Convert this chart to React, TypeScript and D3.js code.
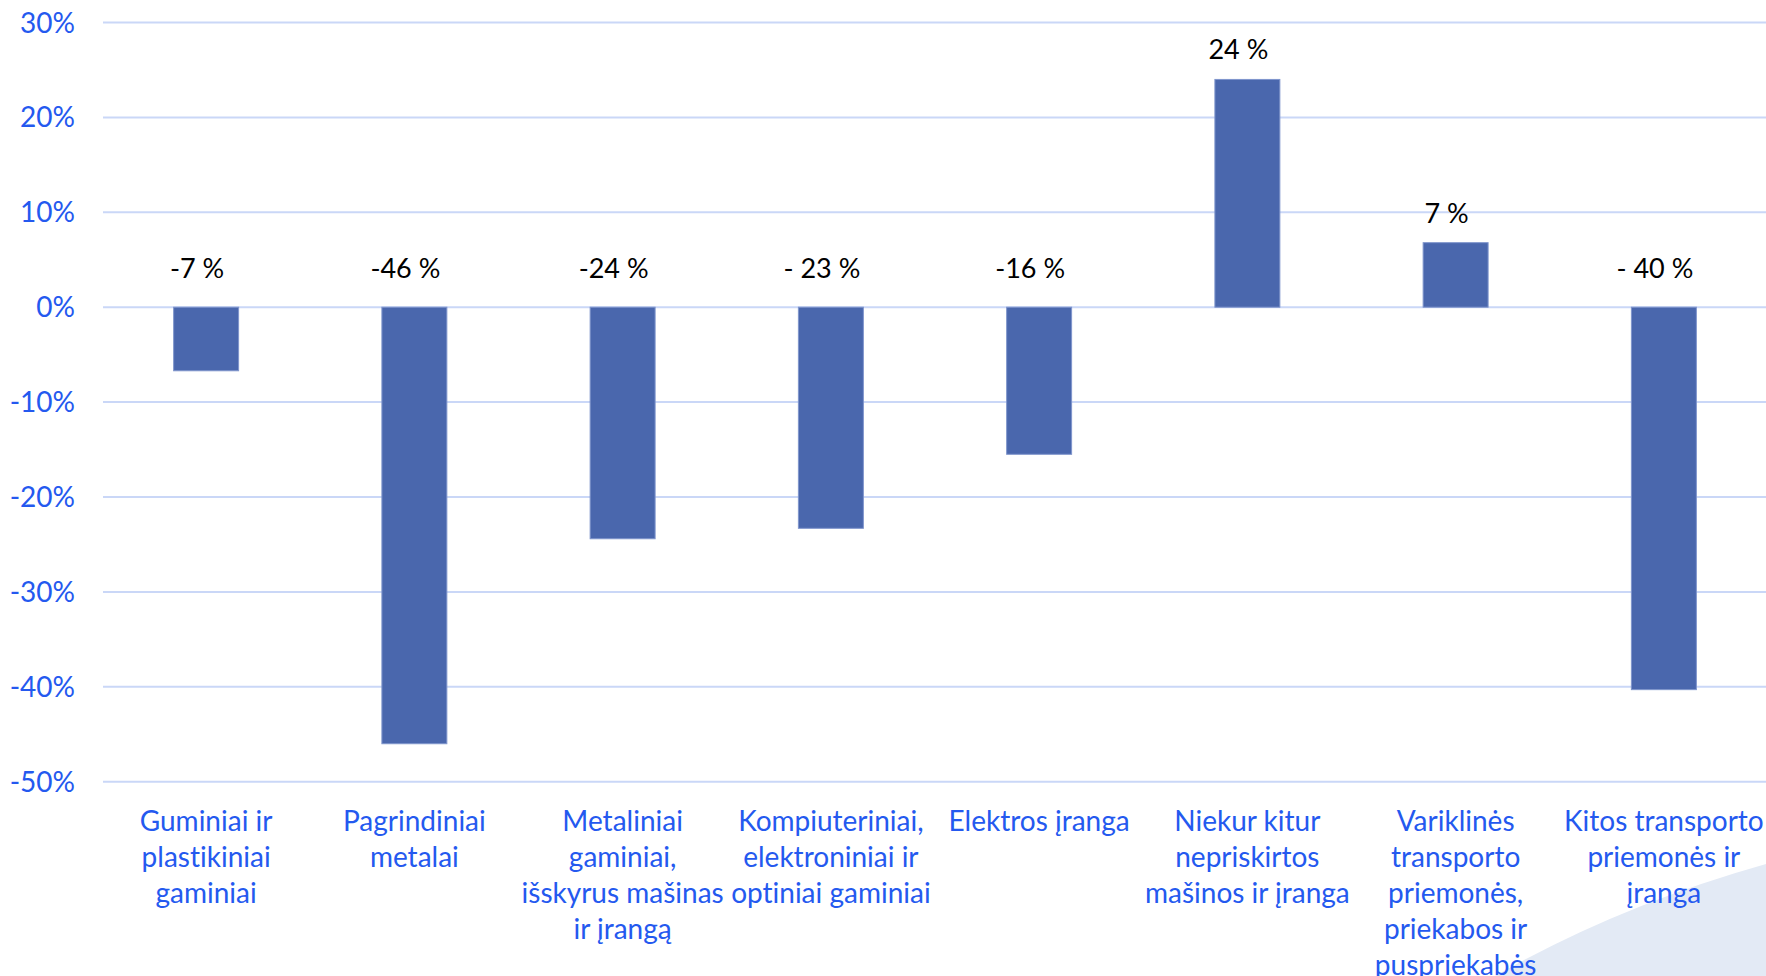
import React, { useRef, useEffect } from 'react';
import * as d3 from 'd3';

// categories (line breaks as in the original figure)
const categories: string[][] = [
  ['Guminiai ir', 'plastikiniai', 'gaminiai'],
  ['Pagrindiniai', 'metalai'],
  ['Metaliniai', 'gaminiai,', 'išskyrus mašinas', 'ir įrangą'],
  ['Kompiuteriniai,', 'elektroniniai ir', 'optiniai gaminiai'],
  ['Elektros įranga'],
  ['Niekur kitur', 'nepriskirtos', 'mašinos ir įranga'],
  ['Variklinės', 'transporto', 'priemonės,', 'priekabos ir', 'puspriekabės'],
  ['Kitos transporto', 'priemonės ir', 'įranga'],
];

const values: number[] = [-6.7, -46, -24.4, -23.3, -15.5, 24, 6.8, -40.3];

const valueLabels: string[] = ['-7 %', '-46 %', '-24 %', '- 23 %', '-16 %', '24 %', '7 %', '- 40 %'];

const yTicks: number[] = [30, 20, 10, 0, -10, -20, -30, -40, -50];

const App = () => {
  const svgRef = useRef<SVGSVGElement>(null);

  useEffect(() => {
    const svg = d3.select(svgRef.current);
    svg.selectAll('*').remove();

    const width = 1766;
    const height = 976;
    const blue = '#2459ef';

    svg.attr('width', width).attr('height', height)
       .style('font-variant-ligatures', 'none');

    // background decoration in the lower right corner
    svg.append('path')
       .attr('d', `M1495,${height} Q1620,905 ${width},864 L${width},${height} Z`)
       .attr('fill', '#e3eaf5');

    const x = d3.scaleBand<number>()
                .domain(d3.range(values.length))
                .range([102, 1768])
                .paddingInner(0.688)
                .paddingOuter(0.344);

    const y = d3.scaleLinear()
                .domain([-50, 30])
                .range([781.7, 22.5]);

    // gridlines
    svg.append('g')
       .selectAll('line')
       .data(yTicks)
       .join('line')
       .attr('x1', 103)
       .attr('x2', width)
       .attr('y1', d => y(d))
       .attr('y2', d => y(d))
       .attr('stroke', '#cad7f7')
       .attr('stroke-width', 2);

    // y tick labels
    svg.append('g')
       .selectAll('text')
       .data(yTicks)
       .join('text')
       .attr('x', 75)
       .attr('y', d => y(d) + 10)
       .attr('text-anchor', 'end')
       .attr('font-family', 'Lato, sans-serif')
       .attr('font-size', 28)
       .attr('fill', blue)
       .text(d => `${d}%`);

    // bars
    svg.append('g')
       .selectAll('rect')
       .data(values)
       .join('rect')
       .attr('x', (d, i) => x(i)!)
       .attr('y', d => y(Math.max(0, d)))
       .attr('width', x.bandwidth())
       .attr('height', d => Math.abs(y(d) - y(0)))
       .attr('fill', '#4a67ad')
       .attr('stroke', '#7f95cc')
       .attr('stroke-width', 1);

    // value labels
    svg.append('g')
       .selectAll('text')
       .data(values)
       .join('text')
       .attr('x', (d, i) => x(i)! + x.bandwidth() / 2 - 9)
       .attr('y', d => (d > 0 ? y(d) - 20 : y(0) - 29))
       .attr('text-anchor', 'middle')
       .attr('font-family', 'Lato, sans-serif')
       .attr('font-size', 27)
       .attr('fill', '#000')
       .text((d, i) => valueLabels[i]);

    // category labels
    const cat = svg.append('g')
       .selectAll('text')
       .data(categories)
       .join('text')
       .attr('x', (d, i) => x(i)! + x.bandwidth() / 2)
       .attr('y', 831)
       .attr('text-anchor', 'middle')
       .attr('font-family', 'Lato, sans-serif')
       .attr('font-size', 28)
       .attr('fill', blue);

    cat.selectAll('tspan')
       .data(d => d)
       .join('tspan')
       .attr('x', function () {
         return (this.parentNode as SVGTextElement).getAttribute('x');
       })
       .attr('dy', (d, i) => (i === 0 ? 0 : 36))
       .text(d => d);
  }, []);

  return <svg ref={svgRef} style={{ position: 'absolute', left: 0, top: 0 }}></svg>;
};

export default App;
